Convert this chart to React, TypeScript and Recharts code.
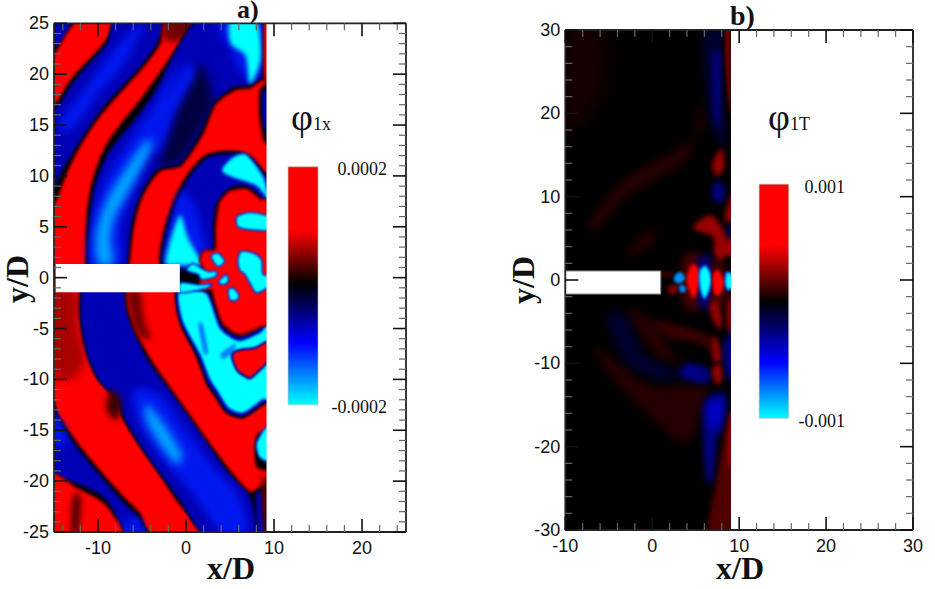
import React from "react";
import { ComposedChart, Line, XAxis, YAxis, CartesianGrid, ReferenceArea } from "recharts";

type P = [number, number];

// ---------- Axis ticks ----------
const aXTicks = [-14, -12, -10, -8, -6, -4, -2, 0, 2, 4, 6, 8, 10, 12, 14, 16, 18, 20, 22, 24];
const aYTicks = [-25,-24,-23,-22,-21,-20,-19,-18,-17,-16,-15,-14,-13,-12,-11,-10,-9,-8,-7,-6,-5,-4,-3,-2,-1,0,1,2,3,4,5,6,7,8,9,10,11,12,13,14,15,16,17,18,19,20,21,22,23,24,25];
const bXTicks = [-10,-8,-6,-4,-2,0,2,4,6,8,10,12,14,16,18,20,22,24,26,28,30];
const bYTicks = [-30,-28,-26,-24,-22,-20,-18,-16,-14,-12,-10,-8,-6,-4,-2,0,2,4,6,8,10,12,14,16,18,20,22,24,26,28,30];

// ---------- Panel a: contour regions (x/D, y/D) ----------
const aBlueCorner: P[] = [[-15.4,25.4],[-13,25.4],[-13.8,23.5],[-15.4,22.5]];
const aRed1: P[] = [[-12.2,25.4],[-8.1,25.4],[-9.4,23],[-12,20.6],[-13.5,19],[-14.3,17.8],[-15.4,16.8],[-15.4,20.9]];
const aBlue1: P[] = [[-7.9,25.4],[-9,23],[-11.5,20.6],[-13,19],[-14.2,17.3],[-15.4,15.7],[-15.4,8.6],[-13.9,10.8],[-12.4,12.9],[-10.2,15.8],[-8,18.1],[-5.2,20.7],[-3.3,23],[-2.6,25.4]];
const aRed2: P[] = [[-2.2,25.4],[-2.9,23],[-4.8,20.7],[-7.5,18.1],[-9.8,15.8],[-12,12.9],[-13.4,10.5],[-14.5,8],[-15.4,5],[-15.4,-11.5],[-14.1,-14],[-12,-16.6],[-9.8,-18.9],[-7.1,-21.5],[-5.2,-23.2],[-3.9,-25.4],[2,-25.4],[-1.1,-21.9],[-3.3,-18.9],[-5.2,-16.6],[-7.1,-14],[-7.9,-11.7],[-9.8,-10.1],[-11.1,-7.8],[-12,-4.5],[-12.1,-1.4],[-11.4,1.4],[-11.4,4.4],[-11.1,7.6],[-10.3,10.6],[-9,13.2],[-7.1,15.5],[-5.2,17.5],[-3.3,19.8],[-0.7,23],[1.2,25.4]];
const aDimLeft: P[] = [[-15.4,-1.4],[-12.4,-1.4],[-12.3,-5],[-11.5,-8],[-13,-10],[-15.4,-9]];
const aDimTop: P[] = [[-2.2,25.4],[1.2,25.4],[-0.4,23.4],[-2.4,23.4]];
const aBlue2: P[] = [[1.6,25.4],[-1.1,22.4],[-3,19.1],[-5.6,15.8],[-8.6,12.6],[-10.3,9.3],[-10.9,6],[-11.2,1.4],[-11.9,-1.4],[-11.9,-4.5],[-11.1,-7.8],[-9.8,-10.2],[-7.9,-11.9],[-6.9,-14],[-4.8,-17],[-3,-19.2],[-0.7,-21.9],[2.3,-25.4],[8,-25.4],[7.8,-23.2],[7.1,-21.2],[4.6,-18.9],[2.3,-16],[0.1,-13.3],[-1.8,-11],[-4.1,-8.4],[-5.6,-5.8],[-6.7,-3.2],[-6.9,-1.4],[-6.6,1.4],[-6.2,5],[-5.2,8],[-3.3,10.6],[-0.7,11.2],[1.6,14.2],[3.1,17.1],[5.4,18.7],[7.1,18.9],[8.4,19.6],[8.6,20.8],[8.6,25.4]];
const aNavyUp: P[] = [[1.6,21],[3.1,17.5],[1.5,14.2],[-0.7,11.4],[-3,11],[-2,14],[-0.5,18]];
const aBlueHaloTop: P[] = [[3.5,25.4],[8.5,25.4],[8.6,20],[6.5,20],[5,22.5]];
const aStreakUp: P[] = [[-10,1.4],[-10.2,4.4],[-9,7.6],[-6.7,10.9],[-4.5,13.5],[-3.9,12.9],[-6,9.3],[-8.1,6],[-8.6,3.7],[-8.3,1.4]];
const aStreakHigh: P[] = [[-4,13],[-2.5,17],[0,21],[1,20],[-1.5,16],[-3,12.5]];
const aStreakLow: P[] = [[-4.5,-12.4],[-2.6,-14.3],[-0.5,-17.3],[-1.1,-18.3],[-3,-16.3],[-4.5,-14]];
const aBrightLow: P[] = [[-6,-11],[-3,-11.5],[0,-15],[3,-18.5],[6,-21.5],[7,-25],[4,-25],[1,-21.5],[-3,-17.5],[-5.5,-14]];
const aBrightUp: P[] = [[-11,1.4],[-10.6,6],[-9,10],[-6,14],[-3.5,17],[-1,21],[-2.6,15],[-5.5,9.5],[-7.4,5],[-7.3,1.4]];
const aBright1: P[] = [[-14.6,15],[-12,18],[-9,21.5],[-6.5,24],[-4.8,25],[-7,21],[-10,18],[-13,14.5]];
const aCyanTop: P[] = [[5,25.4],[8,25.4],[8.6,21.8],[7.7,19.4],[7.1,19.2],[6.7,21.8],[5,23]];
const aBlueStrip: P[] = [[8.6,18.1],[9.4,18.1],[9.4,14.2],[8.8,14.9]];
const aRedTopStrip: P[] = [[8.9,25.4],[9.4,25.4],[9.4,19.5],[8.9,20]];
const aRed3: P[] = [[3.4,17],[5.6,18.4],[7.3,18.6],[8.5,19.3],[9.4,19.3],[8.4,18.5],[8.3,16],[8.8,13.5],[9.4,12.8],[9.4,10.4],[8.8,10.6],[7.3,12],[5.4,12.5],[2.3,12.1],[0.1,10.1],[-1.4,7.6],[-2.6,4.4],[-3,1.4],[-1.25,-1.4],[-0.7,-4.5],[1.2,-7.8],[2.3,-10.4],[3.3,-11.7],[4.6,-13.3],[6.5,-13.8],[8.8,-12.5],[9.4,-11.9],[9.4,-15],[8.2,-15.3],[7.8,-16.6],[8,-18.6],[9.4,-19.1],[8.8,-20.2],[7.3,-21],[5,-18.9],[2.5,-16],[0.3,-13.3],[-1.6,-11],[-3.7,-8.4],[-5.4,-5.8],[-6.5,-3.2],[-6.7,-1.4],[-6.4,1.4],[-5.9,5],[-4.9,8],[-3,10.4],[-0.5,11],[1.9,14]];
const aDimMid: P[] = [[-6.6,-1.4],[-5.2,-1.4],[-4.8,-4],[-4,-6],[-5.5,-5.6],[-6.4,-3.2]];
const aBlue3: P[] = [[-2.6,1.4],[-2.2,4.4],[-1,7.6],[0.5,10.1],[2.6,11.9],[5.4,12.2],[7.3,11.7],[8.7,10.2],[9.4,9.5],[9.4,7],[8.4,8],[6.9,9],[5,8.8],[3.5,7.3],[3.1,5],[3.1,3],[1.6,1.4],[-0.7,1.2]];
const aBlueHalo3: P[] = [[-2.3,1.4],[-1.5,6],[-0.5,8.5],[1,7],[2.4,2.5],[1.6,1.2]];
const aCyan3a: P[] = [[4.2,10.9],[5.4,11.9],[6.9,12.1],[8.8,9.9],[9.4,7.6],[8,9],[5.4,9.8],[4.2,10.3]];
const aCyan3b: P[] = [[-2.4,1.4],[-1.6,4.4],[-0.6,6.2],[0.3,3.9],[1.4,2.2],[1.8,1.2],[-1,1.2]];
const aRed4: P[] = [[3.8,7.3],[5,8.5],[6.9,8.7],[8.4,7.7],[9.4,6.8],[9.4,-3.8],[8.4,-4.8],[6.1,-5.6],[4.2,-4.5],[3.3,-2.4],[2.9,-1.2],[1.8,-1.2],[1.6,-0.3],[2.2,0.2],[2,0.9],[1.6,1.7],[2,2.6],[3.1,2.7],[3.4,3],[3.4,5]];
const aBlob1: P[] = [[5.8,6],[7.3,6.4],[9.4,6],[9.4,4.7],[7.3,4.7],[5.9,5]];
const aBlob2: P[] = [[6.3,2.6],[7.7,2.4],[8.6,1.7],[8.7,0.4],[9.4,0.1],[9.4,-0.9],[8,-1.5],[7.3,-0.6],[6.7,0.3],[6.1,0.75],[5.9,1.7]];
const aBlob3: P[] = [[2.9,2.2],[3.7,2.4],[4.4,1.6],[3.7,1.1],[3.1,1.6]];
const aTail1: P[] = [[0.1,0.9],[0.8,1.4],[1.8,0.9],[2.5,0.6],[3.5,0.6],[3.3,0.1],[1.8,-0.2],[1.4,0.3],[0.3,0.6]];
const aBlob4: P[] = [[3.7,-0.4],[4.6,0.3],[4.8,-0.4],[4.2,-0.7]];
const aBlob5: P[] = [[4.8,-1.2],[5.4,-1.05],[6,-1.7],[5.8,-2.2],[5,-2.2]];
const aTail2: P[] = [[-0.6,-0.5],[1.5,-0.7],[2.9,-0.6],[2.5,-1],[1.6,-1.2],[-0.6,-1.5]];
const aBlue4: P[] = [[-1,-1.4],[2.2,-1.4],[3,-2.4],[4,-4.7],[6,-5.8],[8.4,-5],[9.4,-4],[9.4,-11.8],[8.8,-12.3],[6.5,-13.6],[4.6,-13.1],[3.4,-11.5],[2.4,-10.2],[1.3,-7.6],[-0.6,-4.3]];
const aCyan4: P[] = [[-0.8,-1.4],[2.1,-1.4],[2.9,-2.6],[3.9,-5],[6,-6.2],[8.4,-5.4],[9.4,-4.8],[9.4,-11.6],[8.7,-12],[6.5,-13.3],[4.8,-12.8],[3.6,-11.2],[2.7,-10],[1.6,-7.6],[-0.4,-4.3]];
const aStreak4a: P[] = [[1.4,-4.6],[1.9,-4.6],[2.5,-7.2],[2,-7.4]];
const aStreak4b: P[] = [[4,-7.4],[5.6,-6.5],[5.4,-7.3],[4.2,-8]];
const aRed5: P[] = [[5.2,-7.6],[6.1,-7.1],[7.8,-6.9],[9.4,-6.3],[9.4,-8.1],[8,-9.4],[7.2,-9.9],[5.8,-9.1]];
const aBlueLowerLeft: P[] = [[-15.4,-11.9],[-14.2,-14.4],[-12.1,-17],[-9.9,-19.3],[-7.3,-21.9],[-5.4,-23.6],[-4.3,-25.4],[-7.2,-25.4],[-8.2,-23],[-9.8,-21.3],[-12.5,-20.2],[-15.4,-18.9]];
const aBrightLeft: P[] = [[-15.4,-13.6],[-14,-14.5],[-13.6,-16.6],[-15.4,-16]];
const aBrightFoot: P[] = [[-7,-24],[-5.5,-23.5],[-5,-25.4],[-6.5,-25.4]];
const aRedFoot: P[] = [[-15.4,-19.4],[-12.4,-20.7],[-9.8,-21.9],[-8.4,-23.2],[-7.5,-25.4],[-15.4,-25.4]];
const aDarkFoot: P[] = [[-12.8,-21.5],[-12,-21.7],[-12.3,-25.4],[-13,-25.4]];
const aDarkMid: P[] = [[-8.6,-11],[-7.4,-12],[-7.8,-14],[-9,-13]];
const aCyanSE: P[] = [[8,-16.3],[8.8,-15],[9.4,-14.8],[9.4,-17.9],[8.3,-17.6]];
const aBlueSE: P[] = [[7.9,-21.5],[8.6,-21.2],[8.9,-25.4],[8.1,-25.4]];
const aRedSE: P[] = [[8.7,-19.8],[9.4,-19.8],[9.4,-25.4],[9,-25.4]];

// ---------- Panel b: contour regions (x/D, y/D) ----------
const bFaintNW: P[] = [[-10.4,30.4],[-5.5,30.4],[-5,25],[-7,20],[-10.4,18]];
const bArc: P[] = [[5.5,21.2],[5.9,18.4],[2.8,15.6],[-1,13.6],[-4.1,11.2],[-7.2,7.2],[-6.4,6],[-3,10],[0.9,12.4],[4.3,14.8]];
const bFaint2: P[] = [[-3,3.2],[-0.3,6],[0.5,4.8],[-2.2,2.8]];
const bBlueTop: P[] = [[5.9,30.4],[8.2,30.4],[8,25.6],[8.2,20.4],[8.6,16],[7.4,16.8],[6.5,20.8],[6,25.6]];
const bBlueTopCore: P[] = [[7,27],[7.8,27],[7.8,20],[7.6,18],[7.1,20]];
const bRedTop: P[] = [[8.4,30.4],[9,30.4],[9,20],[8.7,22],[8.4,26]];
const bRedA: P[] = [[6.9,14],[8,15.8],[8.3,13.6],[7.4,12.4]];
const bBlueA: P[] = [[6.9,10.8],[7.6,12],[8.4,10.4],[7.8,9.2],[7.1,9.6]];
const bRedB: P[] = [[8.4,8],[9.3,10.5],[9.3,7.6],[8.6,6.8]];
const bRedArc: P[] = [[4.7,6.4],[6.6,7.8],[8,6.4],[8.9,4],[9.3,3],[7.4,3.2],[7,5.2],[5.5,5.8]];
const bBlueB: P[] = [[8.8,6.5],[9.3,6.5],[9.3,4.8],[8.9,5]];
const bHalo1: P[] = [[3.5,2.5],[5.6,2.8],[5.6,-3.2],[3.6,-3]];
const bHalo2: P[] = [[5.3,2.4],[6.9,2.4],[6.9,-3],[5.4,-3]];
const bHalo3: P[] = [[6.7,1.8],[8.4,1.6],[8.5,-2.6],[6.8,-2.8]];
const bCol1: P[] = [[4.2,1.2],[4.7,1.9],[5.3,1.3],[5.5,0],[5.2,-1.2],[4.8,-2.2],[4.3,-1.4],[3.95,0]];
const bCol2: P[] = [[5.5,1.2],[6.1,1.7],[6.6,1],[6.8,-0.2],[6.4,-1.6],[6,-2.2],[5.6,-1.4],[5.4,0]];
const bCol3: P[] = [[7,0.7],[7.5,1.2],[8,0.6],[8.3,-0.4],[7.8,-1.7],[7.2,-1.7],[6.95,-0.5]];
const bCol4: P[] = [[8.5,0.8],[8.9,0.9],[9.3,0.3],[9.3,-0.8],[8.7,-1.2],[8.4,-0.4]];
const bSmallRed: P[] = [[1.9,-0.9],[2.7,-0.5],[3,-1.2],[2.3,-1.7],[1.8,-1.5]];
const bSmallBlue1: P[] = [[2.5,0.4],[3.2,1],[3.8,0.2],[3.2,-0.4],[2.6,-0.2]];
const bSmallBlue2: P[] = [[3.2,-0.6],[3.8,-0.8],[3.8,-1.4],[3.2,-1.4]];
const bDot1: P[] = [[1.2,0.9],[1.6,0.9],[1.6,0.5],[1.2,0.5]];
const bDot2: P[] = [[1.9,0.85],[2.2,0.85],[2.2,0.4],[1.9,0.4]];
const bUpperRed: P[] = [[7.2,3.6],[8.2,4.5],[8.6,5],[9.3,4.8],[9.3,3.2],[8.3,3.1],[8,2.2],[7.5,2.4]];
const bFaintWedge: P[] = [[0.9,-12.8],[6.3,-12.8],[5.5,-16.8],[4,-19.6],[2.4,-18.8],[-1,-15.6],[-3.7,-12.8],[-6.8,-8.4],[-5.3,-8.8],[-1.4,-12]];
const bFaintA: P[] = [[0.5,-4.8],[7,-6.8],[7,-8.8],[5.5,-7.6],[1.7,-6.8]];
const bFaintB: P[] = [[-3,-3.6],[0.5,-5.2],[2.4,-9.2],[4.7,-10.4],[0.5,-9.2]];
const bBlueC: P[] = [[4,-10],[6.6,-10.8],[6.3,-12.4],[3.2,-11.6]];
const bBlueLow: P[] = [[5.9,-14.8],[7.4,-13.6],[8.6,-14],[8.2,-17.6],[7.4,-19.2],[7,-24],[6.3,-24],[5.9,-18.8]];
const bBlueLowCore: P[] = [[6.6,-15],[7.9,-14.6],[7.5,-17.5],[6.8,-17.5]];
const bRedLow: P[] = [[9.3,-16],[9.3,-30.4],[6.45,-30.4],[7.4,-24],[8.2,-19.2],[8.6,-17.6]];
const bRedLowCore: P[] = [[8.9,-16.5],[9.3,-16.5],[9.3,-22],[8.7,-22]];
const bRedC: P[] = [[6.6,-3.2],[7.4,-2.4],[8,-4.4],[7.8,-6],[7,-4.8]];
const bRedD: P[] = [[8.6,-3],[9.3,-2],[9.3,-6],[8.7,-6]];
const bRedE: P[] = [[7,-6.8],[7.6,-7.6],[8,-9.6],[7,-9.6]];
const bRedF: P[] = [[7,-10.4],[8,-10.2],[8,-12],[7.4,-12.6],[7,-11.6]];
const bBlueD: P[] = [[8.6,-6.8],[9.3,-6.4],[9.3,-12],[8.6,-11.6],[8.2,-8.8]];
const bNavyWide: P[] = [[-5.3,-4.4],[-3,-4.4],[-1,-8.8],[3.2,-11.2],[1,-12],[-3,-10]];

type Sty = { fill: string; stroke?: string; w?: number; blur: number };
const RED: Sty = { fill: "#ff0000", stroke: "#8a0000", w: 2.2, blur: 1.1 };
const NAVY: Sty = { fill: "#0000b4", stroke: "#000050", w: 2.5, blur: 1.3 };
const BLUE: Sty = { fill: "#0018f0", blur: 4 };
const SKY: Sty = { fill: "#00a8ff", blur: 4 };
const CYAN: Sty = { fill: "#00ffff", stroke: "#0030e0", w: 1.6, blur: 0.8 };
const STREAK: Sty = { fill: "#0080ff", blur: 1.5 };
const DARKR: Sty = { fill: "#380000", blur: 3 };
const DIMR: Sty = { fill: "#a80000", blur: 5 };
const DIMR2: Sty = { fill: "#700000", blur: 3 };
const DEEPB: Sty = { fill: "#000040", blur: 5 };
const FAINTR: Sty = { fill: "#260000", blur: 5 };
const FAINTB: Sty = { fill: "#000030", blur: 5 };
const DIMB: Sty = { fill: "#000088", blur: 3 };
const MIDR: Sty = { fill: "#980000", blur: 2.5 };
const HOTR: Sty = { fill: "#ff0000", stroke: "#a00000", w: 2, blur: 1.2 };
const HOTC: Sty = { fill: "#00ffff", stroke: "#0060ff", w: 2, blur: 1.2 };
const HALOR: Sty = { fill: "#4a0000", blur: 4 };
const HALOB: Sty = { fill: "#000080", blur: 4 };

const aLayers: [P[], Sty][] = [
  [aBlueCorner, NAVY], [aRed1, RED], [aBlue1, NAVY], [aRed2, RED], [aDimLeft, DIMR], [aDimTop, DIMR2], [aBlue2, NAVY], [aNavyUp, DEEPB],
  [aBright1, BLUE], [aBrightUp, BLUE], [aBrightLow, BLUE], [aStreakHigh, BLUE], [aStreakUp, SKY], [aStreakLow, SKY],
  [aBlueHaloTop, BLUE], [aCyanTop, { ...CYAN, blur: 2 }], [aBlueStrip, NAVY], [aRedTopStrip, RED], [aRed3, RED], [aDimMid, DIMR2], [aBlue3, NAVY], [aBlueHalo3, BLUE],
  [aCyan3a, { ...CYAN, blur: 1.5 }], [aCyan3b, { ...CYAN, blur: 2 }], [aBlue4, NAVY], [aCyan4, CYAN], [aStreak4a, STREAK], [aStreak4b, STREAK],
  [aRed4, RED], [aBlob1, CYAN], [aBlob2, CYAN], [aBlob3, CYAN], [aTail1, CYAN], [aBlob4, CYAN], [aBlob5, CYAN], [aTail2, CYAN],
  [aRed5, { ...RED, stroke: "#0000a0" }], [aBlueLowerLeft, NAVY], [aBrightLeft, BLUE], [aBrightFoot, BLUE],
  [aRedFoot, RED], [aDarkFoot, DARKR], [aDarkMid, DARKR], [aCyanSE, CYAN], [aBlueSE, NAVY], [aRedSE, DIMR2],
];

const bLayers: [P[], Sty][] = [
  [bFaintNW, { fill: "#140000", blur: 8 }], [bArc, FAINTR], [bFaint2, FAINTR], [bFaintWedge, FAINTR], [bFaintB, FAINTR], [bNavyWide, FAINTB],
  [bFaintA, DARKR], [bBlueTop, FAINTB], [bBlueTopCore, DIMB], [bRedTop, { fill: "#6a0000", blur: 1.5 }], [bRedA, MIDR], [bBlueA, DIMB], [bRedB, MIDR],
  [bRedArc, MIDR], [bBlueB, DIMB], [bHalo1, HALOR], [bHalo2, HALOB], [bHalo3, HALOR], [bCol1, HOTR], [bCol2, HOTC], [bCol3, HOTR], [bCol4, HOTC],
  [bSmallRed, MIDR], [bSmallBlue1, { fill: "#0090ff", blur: 1.5 }], [bSmallBlue2, { fill: "#0090ff", blur: 1.5 }], [bDot1, MIDR], [bDot2, MIDR], [bUpperRed, MIDR],
  [bBlueC, DIMB], [bBlueLow, DIMB], [bBlueLowCore, { fill: "#0000d8", blur: 4 }], [bRedLow, { ...MIDR, fill: "#500000" }], [bRedLowCore, MIDR],
  [bRedC, MIDR], [bRedD, MIDR], [bRedE, MIDR], [bRedF, MIDR], [bBlueD, DIMB],
];

// ---------- Shared drawing helpers ----------
const W = 935, H = 589;
const rows = (pts: P[]) => pts.map(([x, y]) => ({ x, y }));

function smooth(pts: { x: number; y: number }[]) {
  const n = pts.length, k = 0.13;
  let d = `M${pts[0].x},${pts[0].y}`;
  for (let i = 0; i < n; i++) {
    const p0 = pts[(i - 1 + n) % n], p1 = pts[i], p2 = pts[(i + 1) % n], p3 = pts[(i + 2) % n];
    d += `C${p1.x + (p2.x - p0.x) * k},${p1.y + (p2.y - p0.y) * k},${p2.x - (p3.x - p1.x) * k},${p2.y - (p3.y - p1.y) * k},${p2.x},${p2.y}`;
  }
  return d + "Z";
}

const regionDot = (sty: Sty) => (p: any) => {
  if (p.index !== 0) return <g key={p.index} />;
  return (
    <path key={0} d={smooth(p.points)} fill={sty.fill} stroke={sty.stroke ?? "none"} strokeWidth={sty.w ?? 0}
      strokeLinejoin="round" style={{ filter: `blur(${sty.blur}px)` }} />
  );
};

const isMajor = (v: number, step: number) => Math.abs(v % step) < 1e-9;
const SANS = "'Liberation Sans', Arial, sans-serif";
const SERIF = "'Liberation Serif', 'Times New Roman', serif";

const tickProps = (major: boolean) => ({ stroke: major ? "#111" : "#666", strokeWidth: major ? 1.6 : 1.2 });
const bottomTick = (step: number) => (p: any) => {
  const m = isMajor(p.payload.value, step);
  return <g><line x1={p.x} x2={p.x} y1={p.y} y2={p.y - (m ? 13 : 7)} {...tickProps(m)} />
    {m && <text x={p.x} y={p.y + 22} textAnchor="middle" fontFamily={SANS} fontSize={18} fill="#111">{p.payload.value}</text>}</g>;
};
const topTick = (step: number) => (p: any) => {
  const m = isMajor(p.payload.value, step);
  return <line x1={p.x} x2={p.x} y1={p.y} y2={p.y + (m ? 13 : 7)} {...tickProps(m)} />;
};
const leftTick = (step: number) => (p: any) => {
  const m = isMajor(p.payload.value, step);
  return <g><line x1={p.x} x2={p.x + (m ? 13 : 7)} y1={p.y} y2={p.y} {...tickProps(m)} />
    {m && <text x={p.x - 5} y={p.y + 6} textAnchor="end" fontFamily={SANS} fontSize={18} fill="#111">{p.payload.value}</text>}</g>;
};
const rightTick = (step: number) => (p: any) => {
  const m = isMajor(p.payload.value, step);
  return <line x1={p.x} x2={p.x - (m ? 13 : 7)} y1={p.y} y2={p.y} {...tickProps(m)} />;
};

type Panel = {
  id: string; margin: { left: number; top: number; right: number; bottom: number }; xDom: [number, number]; yDom: [number, number];
  xTicks: number[]; yTicks: number[]; xStep: number; yStep: number; layers: [P[], Sty][];
  edge: number; inlet: [number, number, number, number]; inletStroke: string;
  bar: [number, number, number, number]; stops: [number, string][];
};

const panelA: Panel = {
  id: "a", margin: { left: 54, top: 23.3, right: W - 406, bottom: H - 532 }, xDom: [-15, 25], yDom: [-25, 25],
  xTicks: aXTicks, yTicks: aYTicks, xStep: 10, yStep: 5, layers: aLayers, edge: 9.15,
  inlet: [-14.8, -0.7, -1.44, 1.35], inletStroke: "none", bar: [11.6, 15, -12.5, 10.9],
  stops: [[0, "#ff0000"], [0.265, "#ff0000"], [0.49, "#000000"], [0.74, "#0000ff"], [1, "#00ffff"]],
};
const panelB: Panel = {
  id: "b", margin: { left: 565.3, top: 30, right: W - 913, bottom: H - 530 }, xDom: [-10, 30], yDom: [-30, 30],
  xTicks: bXTicks, yTicks: bYTicks, xStep: 10, yStep: 10, layers: bLayers, edge: 9.06,
  inlet: [-10, 1, -1.7, 1.1], inletStroke: "#555", bar: [12.3, 15.7, -16.6, 11.5],
  stops: [[0, "#ff0000"], [0.26, "#ff0000"], [0.5, "#000000"], [0.76, "#0000ff"], [1, "#00ffff"]],
};

const layer: React.CSSProperties = { position: "absolute", left: 0, top: 0 };

function Field({ p }: { p: Panel }) {
  return (
    <div style={layer}>
      <ComposedChart width={W} height={H} margin={p.margin}>
        <CartesianGrid horizontal={false} vertical={false} fill="#000000" />
        <XAxis dataKey="x" type="number" domain={p.xDom} allowDataOverflow hide />
        <YAxis dataKey="y" type="number" domain={p.yDom} allowDataOverflow hide width={0} />
        {p.layers.map(([pts, sty], i) => (
          <Line key={i} data={rows(pts)} dataKey="y" stroke="none" dot={regionDot(sty)} activeDot={false}
            legendType="none" isAnimationActive={false} />
        ))}
      </ComposedChart>
    </div>
  );
}

const anchorRows = [{ x: 0, y: 0 }, { x: 1, y: 0 }];

function Frame({ p }: { p: Panel }) {
  const gid = `bar-${p.id}`;
  const axisLine = { stroke: "#222", strokeWidth: 1.8 };
  const common = { type: "number" as const, allowDataOverflow: true, tickLine: false, tickSize: 0, tickMargin: 0, interval: 0 as const, axisLine };
  const m = { left: p.margin.left - 1, top: p.margin.top - 1, right: p.margin.right - 1, bottom: p.margin.bottom - 1 };
  return (
    <div style={layer}>
      <ComposedChart width={W} height={H} margin={m} data={anchorRows}>
        <defs>
          <linearGradient id={gid} x1="0" y1="0" x2="0" y2="1">
            {p.stops.map(([o, c]) => <stop key={o} offset={o} stopColor={c} />)}
          </linearGradient>
        </defs>
        <XAxis {...common} dataKey="x" xAxisId="bot" orientation="bottom" height={1} domain={p.xDom} ticks={p.xTicks} tick={bottomTick(p.xStep)} />
        <XAxis {...common} dataKey="x" xAxisId="top" orientation="top" height={1} domain={p.xDom} ticks={p.xTicks} tick={topTick(p.xStep)} />
        <YAxis {...common} dataKey="y" yAxisId="lef" orientation="left" width={1} domain={p.yDom} ticks={p.yTicks} tick={leftTick(p.yStep)} />
        <YAxis {...common} dataKey="y" yAxisId="rig" orientation="right" width={1} domain={p.yDom} ticks={p.yTicks} tick={rightTick(p.yStep)} />
        <Line xAxisId="bot" yAxisId="lef" dataKey="y" stroke="none" dot={false} activeDot={false} legendType="none" isAnimationActive={false} />
        <Line xAxisId="top" yAxisId="rig" dataKey="y" stroke="none" dot={false} activeDot={false} legendType="none" isAnimationActive={false} />
        <ReferenceArea xAxisId="bot" yAxisId="lef" x1={p.edge} x2={p.xDom[1]} y1={p.yDom[0]} y2={p.yDom[1]} fill="#fff" fillOpacity={1} stroke="none" ifOverflow="visible" />
        <ReferenceArea xAxisId="bot" yAxisId="lef" x1={p.inlet[0]} x2={p.inlet[1]} y1={p.inlet[2]} y2={p.inlet[3]} fill="#fff" fillOpacity={1} stroke={p.inletStroke} ifOverflow="visible" />
        <ReferenceArea xAxisId="bot" yAxisId="lef" x1={p.bar[0]} x2={p.bar[1]} y1={p.bar[2]} y2={p.bar[3]} fill={`url(#${gid})`} fillOpacity={1} stroke="#bbb" strokeWidth={0.6} ifOverflow="visible" />
      </ComposedChart>
    </div>
  );
}

function Labels() {
  const bold = { fontFamily: SERIF, fontWeight: 700, fontSize: 32, fill: "#111" };
  const title = { fontFamily: SERIF, fontWeight: 700, fill: "#111" };
  const tim = { fontFamily: SERIF, fontSize: 18, fill: "#111" };
  return (
    <svg width={W} height={H} style={{ ...layer, pointerEvents: "none" }}>
      <text x={237} y={18} fontSize={26} {...title}>a)</text>
      <text x={730} y={25} fontSize={28} {...title}>b)</text>
      <text x={207} y={579} {...bold}>x/D</text>
      <text x={716} y={579} {...bold}>x/D</text>
      <text transform="translate(28,303) rotate(-90)" {...bold}>y/D</text>
      <text transform="translate(534,304) rotate(-90)" {...bold}>y/D</text>
      <text x={291} y={130} fontFamily={SERIF} fontSize={38} fill="#111">φ</text>
      <text x={313} y={130} {...tim}>1x</text>
      <text x={768} y={130} fontFamily={SERIF} fontSize={38} fill="#111">φ</text>
      <text x={790} y={130} {...tim}>1T</text>
      <text x={387} y={175} textAnchor="end" {...tim}>0.0002</text>
      <text x={387} y={413} textAnchor="end" {...tim}>-0.0002</text>
      <text x={845} y={193} textAnchor="end" {...tim}>0.001</text>
      <text x={845} y={427} textAnchor="end" {...tim}>-0.001</text>
    </svg>
  );
}

export default function App() {
  return (
    <div style={{ position: "absolute", left: 0, top: 0, width: W, height: H, background: "#fff", overflow: "hidden" }}>
      <Field p={panelA} />
      <Field p={panelB} />
      <Frame p={panelA} />
      <Frame p={panelB} />
      <Labels />
    </div>
  );
}
